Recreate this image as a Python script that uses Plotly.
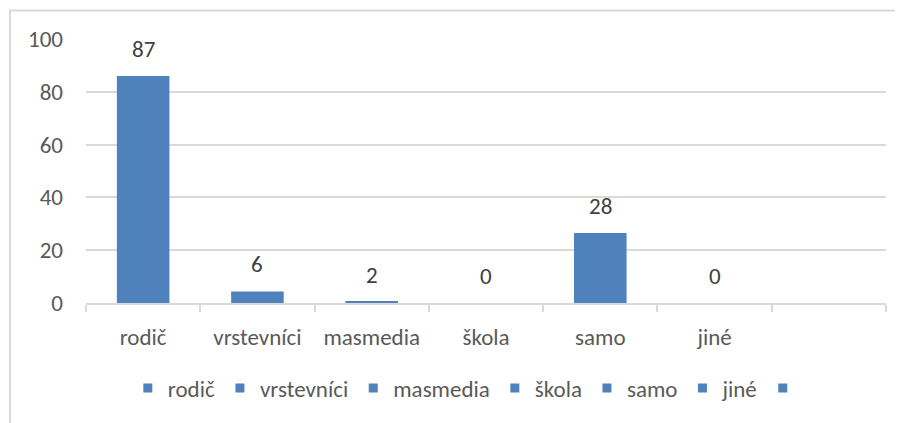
import plotly.graph_objects as go

categories = ["rodič", "vrstevníci", "masmedia", "škola", "samo", "jiné", " "]
bar_values = [86, 4.4, 0.4, 0, 26.5, 0, None]
label_texts = ["87", "6", "2", "0", "28", "0"]
y_ticks = [0, 20, 40, 60, 80, 100]

BLUE = "#4F81BD"
FONT = "Calibri, Carlito, Lato, sans-serif"
TXT = "#595959"
FS = 23

fig = go.Figure()
fig.add_trace(go.Bar(
    x=categories, y=bar_values, marker=dict(color=BLUE, line=dict(width=0)),
    showlegend=False, hoverinfo="skip",
))
for name in categories:
    fig.add_trace(go.Scatter(
        x=[None], y=[None], mode="markers", name=name,
        marker=dict(symbol="square", size=9, color=BLUE),
    ))

for cat, val, txt in zip(categories, bar_values, label_texts):
    fig.add_annotation(x=cat, y=val, text=txt, showarrow=False, yshift=27,
                       xref="x", yref="y", yanchor="middle",
                       font=dict(family=FONT, size=FS, color="#404040"))

fig.add_shape(type="rect", xref="paper", yref="paper",
              x0=-0.095, x1=1.06, y0=-0.6, y1=1.108,
              line=dict(color="#D9D9D9", width=2), fillcolor="rgba(0,0,0,0)",
              layer="below")

fig.update_layout(
    width=895, height=415,
    margin=dict(l=78, r=17, t=31, b=120),
    paper_bgcolor="white", plot_bgcolor="white",
    bargap=0.54,
    font=dict(family=FONT, size=FS, color=TXT),
    legend=dict(orientation="h", x=0.481, xanchor="center", y=-0.322, yanchor="middle",
                itemwidth=30, font=dict(family=FONT, size=FS, color=TXT)),
    xaxis=dict(type="category", categoryorder="array", categoryarray=categories,
               showgrid=False, showline=True, linecolor="#D9D9D9", linewidth=1.5,
               ticks="outside", tickson="boundaries", ticklen=7, tickcolor="#D9D9D9",
               tickwidth=1.5, ticklabelstandoff=13,
               tickfont=dict(family=FONT, size=FS, color=TXT)),
    yaxis=dict(range=[0, 100], tickvals=y_ticks, showgrid=True, gridcolor="#D9D9D9",
               gridwidth=1.5, zeroline=False, showline=False, ticks="",
               ticklabelstandoff=22, tickfont=dict(family=FONT, size=FS, color=TXT)),
)

fig.write_html("out.html")
